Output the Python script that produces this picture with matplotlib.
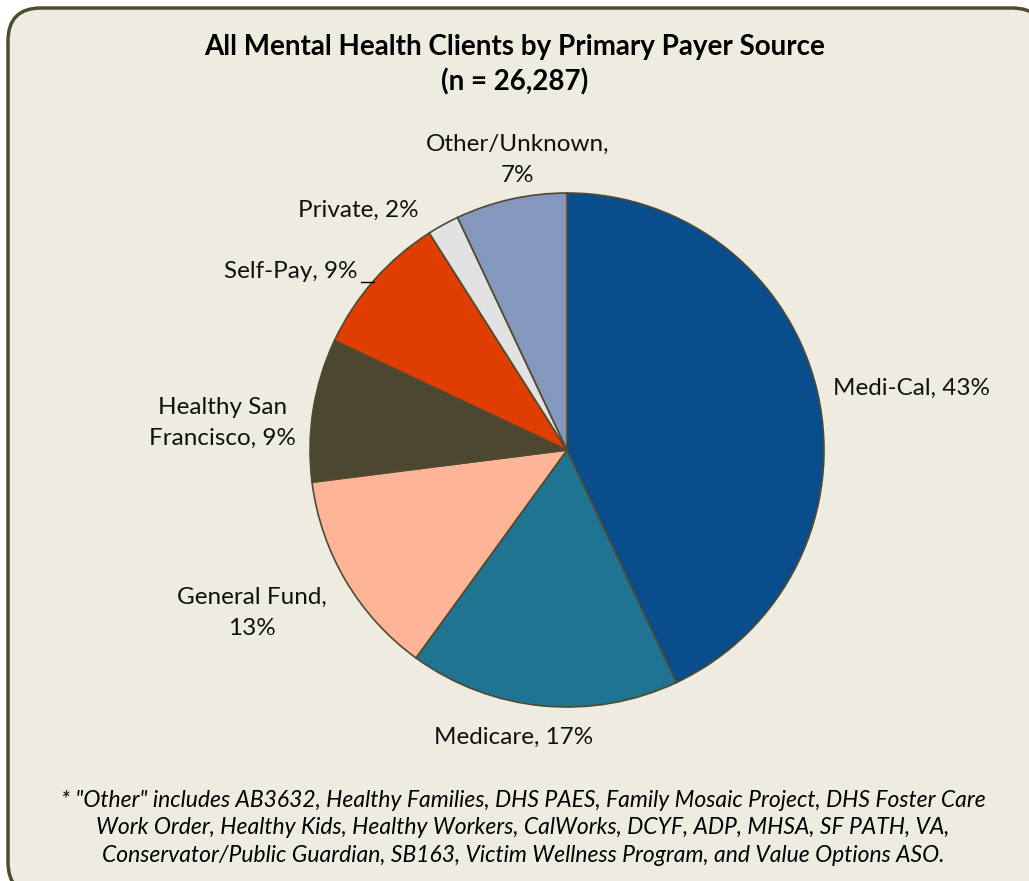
import matplotlib
matplotlib.use("Agg")
import matplotlib.pyplot as plt
from matplotlib.patches import FancyBboxPatch
import numpy as np

plt.rcParams['font.family'] = ['Lato', 'DejaVu Sans']

categories = ["Medi-Cal", "Medicare", "General Fund", "Healthy San\nFrancisco", "Self-Pay", "Private", "Other/Unknown"]
values = [43, 17, 13, 9, 9, 2, 7]
colors = ["#0A4D8C", "#1F7491", "#FDB497", "#4D4730", "#E03E00", "#E2E2E2", "#8497BC"]
label_texts = ["Medi-Cal, 43%", "Medicare, 17%", "General Fund,\n13%", "Healthy San\nFrancisco, 9%",
               "Self-Pay, 9%", "Private, 2%", "Other/Unknown,\n7%"]
title = "All Mental Health Clients by Primary Payer Source"
subtitle = "(n = 26,287)"
footnote = ('* "Other" includes AB3632, Healthy Families, DHS PAES, Family Mosaic Project, DHS Foster Care\n'
            'Work Order, Healthy Kids, Healthy Workers, CalWorks, DCYF, ADP, MHSA, SF PATH, VA,\n'
            'Conservator/Public Guardian, SB163, Victim Wellness Program, and Value Options ASO.')

W, H = 1029, 881
fig = plt.figure(figsize=(W / 100, H / 100), dpi=100)
fig.patch.set_facecolor("white")

# rounded background box
box = FancyBboxPatch((8 / W, 1 - 895 / H), (1045 - 8) / W, (895 - 8) / H,
                     boxstyle="round,pad=0,rounding_size=0.032", transform=fig.transFigure,
                     facecolor="#EEEBE0", edgecolor="#4F4A30", linewidth=2.5, zorder=-5,
                     mutation_aspect=W / H)
fig.patches.append(box)

cx, cy, r = 567, 450, 257
ax = fig.add_axes([(cx - r) / W, (H - cy - r) / H, 2 * r / W, 2 * r / H])
ax.set_zorder(2)
ax.set_facecolor("none")
wedges, _ = ax.pie(values, colors=colors, startangle=90, counterclock=False,
                   wedgeprops=dict(edgecolor="#4F4A30", linewidth=1.2))
ax.set_xlim(-1, 1)
ax.set_ylim(-1, 1)
ax.set_aspect("equal")
ax.axis("off")

# label positions (data coords) and alignment
pos = [(1.035, 0.241, "left"), (-0.206, -1.117, "center"), (-1.226, -0.634, "center"),
       (-1.342, 0.105, "center"), (-0.817, 0.693, "right"), (-0.813, 0.934, "center"),
       (-0.191, 1.128, "center")]
for t, (x, y, ha) in zip(label_texts, pos):
    ax.text(x, y, t, ha=ha, va="center", fontsize=17.5, color="#111111",
            multialignment="center", linespacing=1.6, clip_on=False)

# leader line for Self-Pay
ax.plot([-0.80, -0.752], [0.655, 0.655], color="black", lw=1.0, clip_on=False)

fig.text(515 / W, 1 - 47 / H, title, ha="center", va="center", fontsize=20, fontweight="bold")
fig.text(515 / W, 1 - 82 / H, subtitle, ha="center", va="center", fontsize=20, fontweight="bold")
fig.text(523 / W, 1 - 828 / H, footnote, ha="center", va="center", fontsize=16.5,
         style="italic", linespacing=1.4)

fig.savefig("out.png", dpi=100)
